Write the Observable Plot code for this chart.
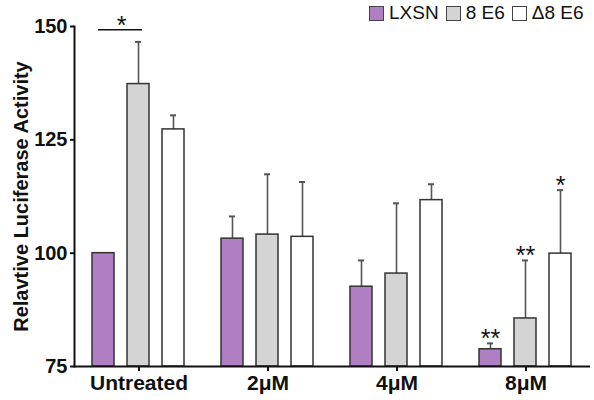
<!DOCTYPE html>
<html><head><meta charset="utf-8">
<script src="https://cdn.jsdelivr.net/npm/d3@7"></script>
<script src="https://cdn.jsdelivr.net/npm/@observablehq/plot@0.6"></script>
<style>
body{margin:0;background:#fff;}
#wrap{position:relative;width:594px;height:400px;}
#legend{position:absolute;left:369px;top:3px;display:flex;align-items:center;font-family:"Liberation Sans",Arial,sans-serif;font-size:19px;color:#111;line-height:20px;}
.item{display:flex;align-items:center;margin-right:7px;}
.sw{width:13px;height:13px;border:1.5px solid #444;margin-right:5px;}
g[aria-label="y-axis tick label"]{font-size:20px !important;font-weight:bold;}
g[aria-label="y-axis tick label"] text{font-size:20px !important;}
g[aria-label="y-axis label"]{font-size:20px !important;font-weight:bold;}
g[aria-label="y-axis label"] text{font-size:20px !important;}
</style></head>
<body><div id="wrap"><div id="legend"></div></div>
<script>
const categories = ["Untreated", "2\u03bcM", "4\u03bcM", "8\u03bcM"];
const series = ["LXSN", "8 E6", "\u03948 E6"];
const seriesColors = ["#b07fc3", "#d4d4d4", "#ffffff"];
const lxsnValues = [100, 103.2, 92.6, 78.8];
const e6Values = [137.3, 104.1, 95.5, 85.6];
const d8e6Values = [127.3, 103.6, 111.7, 99.9];
const lxsnErr = [0, 4.9, 5.8, 1.3];
const e6Err = [9.3, 13.3, 15.5, 12.8];
const d8e6Err = [3.1, 12.1, 3.5, 14.0];
const yDomain = [75, 150];
const yTicks = [75, 100, 125, 150];
const yTitle = "Relavtive Luciferase Activity";
const sigCategory = ["8\u03bcM", "8\u03bcM", "8\u03bcM"];
const sigSeries = ["LXSN", "8 E6", "\u03948 E6"];
const sigLabel = ["**", "**", "*"];
const bracketCategory = "Untreated";
const bracketFrom = "LXSN";
const bracketTo = "8 E6";
const bracketValue = 149.3;
const bracketLabel = "*";

const values = [lxsnValues, e6Values, d8e6Values];
const errs = [lxsnErr, e6Err, d8e6Err];
const rows = categories.flatMap((c, i) => series.map((s, j) => ({category: c, series: s, value: values[j][i], err: errs[j][i]})));
const errRows = rows.filter(d => d.err > 0);
const sig = sigLabel.map((t, k) => {
  const r = rows.find(d => d.category === sigCategory[k] && d.series === sigSeries[k]);
  return {category: r.category, series: r.series, y: r.value + r.err, text: t};
});
const bracket = [{category: bracketCategory, from: bracketFrom, to: bracketTo, y: bracketValue, text: bracketLabel}];

const legend = document.getElementById("legend");
series.forEach((s, j) => {
  const item = document.createElement("div"); item.className = "item";
  const sw = document.createElement("div"); sw.className = "sw"; sw.style.background = seriesColors[j];
  const tx = document.createElement("span"); tx.textContent = s;
  item.append(sw, tx); legend.append(item);
});

const chart = Plot.plot({
  width: 594, height: 400,
  marginTop: 26, marginBottom: 34, marginLeft: 73, marginRight: 4,
  style: {fontFamily: '"Liberation Sans", Arial, sans-serif', fontSize: "20px", color: "#111", background: "#fff"},
  fx: {domain: categories, padding: 0, label: null, axis: null},
  x: {domain: series, paddingInner: 0.36, paddingOuter: 0.48, axis: null},
  y: {domain: yDomain, label: null, axis: null},
  color: {domain: series, range: seriesColors},
  marks: [
    Plot.axisY({ticks: yTicks, tickSize: 4, tickPadding: 3, strokeWidth: 2, fontWeight: "bold", fontSize: 20,
      label: yTitle, labelAnchor: "center", labelOffset: 61, labelArrow: "none"}),
    Plot.axisFx({anchor: "bottom", tickSize: 5, tickPadding: 4, strokeWidth: 2, fontWeight: "bold", fontSize: 21, label: null}),
    Plot.frame({anchor: "left", facetAnchor: "left", strokeWidth: 2}),
    Plot.ruleX(errRows, {fx: "category", x: "series", y1: "value", y2: d => d.value + d.err, stroke: "#555", strokeWidth: 1.6}),
    Plot.tickY(errRows, {fx: "category", x: "series", y: d => d.value + d.err, stroke: "#555", strokeWidth: 2, insetLeft: 8, insetRight: 8}),
    Plot.barY(rows, {fx: "category", x: "series", y1: yDomain[0], y2: "value", fill: "series", stroke: "#333", strokeWidth: 1.5}),
    Plot.ruleY([yDomain[0]], {strokeWidth: 2}),
    Plot.text(sig, {fx: "category", x: "series", y: "y", text: "text", dy: -4, fontSize: 25}),
    Plot.ruleY(bracket, {fx: "category", x1: "from", x2: "to", y: "y", strokeWidth: 1.5, insetLeft: 6, insetRight: 7}),
    Plot.text(bracket, {fx: "category", x: "from", y: "y", text: "text", dx: 18, dy: -4, fontSize: 25})
  ]
});
document.getElementById("wrap").append(chart);
</script>
</body></html>
